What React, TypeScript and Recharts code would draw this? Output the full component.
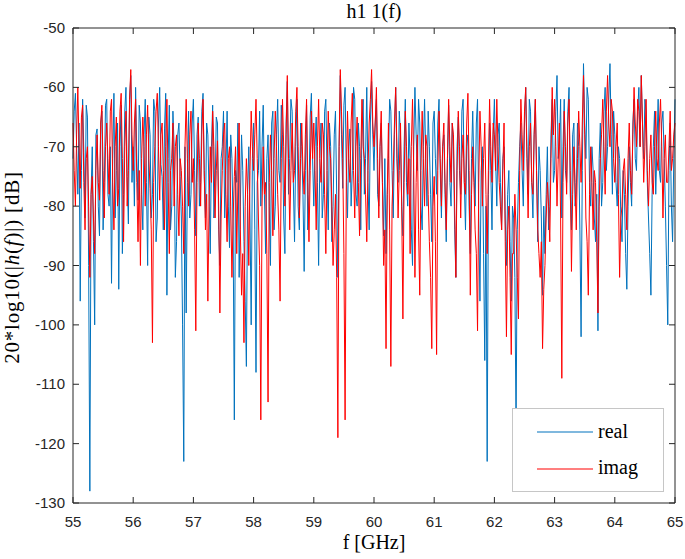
import React from "react";
import { LineChart, Line, XAxis, YAxis } from "recharts";

// sampling grid: 55..65 GHz, 0.02 GHz step
const F_START = 55;
const F_STEP = 0.02;

// 20*log10(|h(f)|) of the real part, dB (one row per GHz)
const realDb = [
  -72, -64, -61, -70, -78, -66, -96, -74, -62, -71, -82, -63, -65, -90, -128, -78, -70, -86, -100, -68, -67, -80, -85, -66, -64, -84, -76, -63, -62, -78, -80, -70, -93, -72, -61, -82, -74, -66, -94, -70, -63, -88, -78, -64, -60, -75, -83, -62, -58, -76,
  -70, -80, -60, -72, -79, -63, -66, -78, -84, -68, -62, -76, -90, -65, -68, -82, -78, -62, -64, -86, -82, -66, -60, -73, -75, -84, -67, -61, -95, -72, -63, -84, -80, -64, -70, -92, -86, -68, -66, -75, -82, -100, -123, -70, -98, -76, -64, -82, -78, -66,
  -62, -74, -85, -68, -65, -80, -76, -64, -61, -75, -82, -66, -68, -78, -88, -70, -63, -82, -78, -65, -66, -84, -90, -72, -70, -64, -82, -74, -64, -80, -87, -68, -72, -84, -116, -74, -76, -66, -92, -80, -68, -74, -86, -96, -107, -78, -70, -82, -100, -72,
  -66, -84, -108, -76, -74, -64, -80, -70, -63, -78, -88, -72, -68, -80, -90, -66, -64, -84, -80, -68, -62, -74, -76, -63, -68, -82, -88, -66, -59, -78, -72, -62, -64, -76, -86, -70, -62, -80, -84, -66, -70, -78, -91, -74, -63, -84, -78, -65, -61, -72,
  -80, -70, -65, -76, -90, -72, -66, -82, -78, -64, -62, -74, -84, -66, -70, -86, -80, -68, -64, -78, -92, -70, -58, -68, -77, -63, -60, -74, -82, -70, -67, -80, -74, -60, -62, -78, -80, -66, -70, -84, -66, -62, -78, -72, -60, -76, -84, -66, -59, -68,
  -74, -66, -62, -78, -80, -70, -66, -76, -85, -72, -88, -78, -72, -62, -64, -74, -82, -68, -60, -72, -76, -64, -68, -80, -85, -70, -62, -76, -80, -66, -72, -84, -90, -70, -60, -68, -74, -62, -66, -80, -84, -70, -62, -72, -80, -64, -70, -78, -86, -66,
  -64, -72, -78, -66, -62, -74, -82, -70, -68, -78, -86, -72, -63, -76, -80, -66, -70, -84, -92, -70, -65, -74, -78, -64, -62, -76, -84, -70, -68, -80, -88, -72, -64, -74, -80, -66, -62, -82, -96, -74, -70, -88, -106, -80, -123, -78, -66, -74, -84, -68,
  -62, -72, -80, -68, -66, -76, -84, -72, -70, -82, -90, -78, -74, -86, -96, -80, -82, -92, -118, -84, -76, -70, -66, -74, -80, -66, -60, -70, -78, -62, -64, -76, -82, -68, -62, -74, -86, -70, -74, -82, -95, -80, -88, -78, -70, -84, -80, -68, -62, -76,
  -74, -64, -58, -72, -70, -62, -82, -70, -62, -74, -76, -64, -60, -78, -84, -68, -66, -80, -78, -66, -70, -84, -102, -74, -56, -66, -72, -60, -62, -76, -80, -70, -74, -82, -86, -78, -101, -72, -66, -80, -76, -64, -60, -74, -70, -62, -56, -68, -78, -64,
  -68, -76, -80, -70, -72, -82, -86, -74, -78, -88, -94, -80, -70, -76, -80, -66, -62, -72, -74, -64, -60, -70, -58, -66, -72, -62, -64, -76, -82, -88, -95, -78, -70, -64, -78, -70, -62, -74, -76, -66, -64, -72, -80, -90, -100, -74, -66, -80, -86, -72,
  -62,
];

// 20*log10(|h(f)|) of the imaginary part, dB (one row per GHz)
const imagDb = [
  -66, -74, -80, -68, -60, -70, -77, -65, -63, -76, -84, -72, -70, -80, -92, -78, -75, -82, -88, -74, -68, -76, -79, -66, -63, -74, -82, -70, -66, -72, -78, -64, -62, -76, -84, -70, -65, -80, -77, -64, -61, -72, -86, -70, -64, -80, -74, -62, -57, -68,
  -74, -66, -62, -76, -86, -74, -90, -72, -65, -70, -80, -68, -63, -72, -77, -84, -103, -76, -70, -64, -61, -70, -79, -68, -66, -74, -84, -70, -62, -76, -88, -74, -72, -66, -80, -70, -68, -78, -85, -72, -74, -80, -88, -70, -62, -72, -80, -68, -64, -76,
  -72, -84, -101, -76, -66, -72, -80, -68, -62, -74, -84, -78, -96, -80, -70, -76, -64, -70, -82, -74, -69, -80, -98, -82, -74, -68, -66, -78, -86, -72, -70, -80, -92, -82, -75, -70, -88, -76, -66, -84, -95, -88, -103, -80, -72, -78, -90, -74, -64, -70,
  -74, -68, -62, -72, -82, -90, -116, -80, -70, -78, -76, -88, -113, -76, -68, -74, -85, -72, -64, -70, -78, -84, -96, -72, -62, -70, -80, -68, -58, -72, -84, -74, -66, -76, -74, -64, -60, -70, -82, -72, -66, -74, -78, -68, -62, -76, -86, -74, -64, -72,
  -66, -74, -84, -70, -62, -72, -76, -66, -68, -78, -88, -74, -64, -70, -72, -80, -90, -84, -78, -92, -119, -70, -57, -64, -72, -88, -116, -76, -64, -72, -76, -66, -61, -74, -82, -70, -65, -76, -85, -72, -62, -70, -72, -78, -86, -74, -66, -62, -57, -66,
  -70, -66, -60, -72, -82, -70, -64, -76, -90, -84, -104, -78, -66, -84, -107, -80, -74, -66, -60, -70, -82, -74, -66, -80, -99, -76, -64, -70, -78, -72, -88, -70, -62, -74, -92, -76, -68, -84, -95, -74, -64, -72, -80, -68, -70, -78, -86, -92, -104, -80,
  -75, -86, -105, -74, -64, -72, -80, -70, -66, -76, -84, -72, -62, -70, -76, -66, -68, -80, -92, -74, -64, -70, -82, -72, -68, -76, -78, -66, -61, -74, -95, -78, -70, -76, -84, -88, -101, -76, -64, -70, -80, -72, -66, -78, -88, -74, -62, -70, -76, -66,
  -68, -74, -62, -70, -76, -80, -84, -74, -66, -86, -102, -84, -80, -92, -105, -88, -88, -78, -84, -92, -99, -74, -62, -68, -74, -64, -60, -72, -82, -70, -66, -76, -78, -68, -62, -74, -84, -88, -92, -86, -104, -94, -90, -82, -76, -80, -86, -72, -60, -68,
  -62, -70, -80, -72, -66, -82, -109, -76, -64, -70, -78, -66, -62, -74, -91, -78, -70, -76, -84, -72, -64, -70, -76, -66, -58, -68, -82, -86, -95, -78, -70, -76, -84, -74, -76, -86, -98, -80, -72, -68, -62, -70, -78, -64, -58, -66, -70, -62, -64, -72,
  -76, -70, -66, -78, -92, -82, -80, -74, -72, -78, -84, -72, -66, -74, -78, -68, -60, -66, -70, -62, -64, -70, -58, -66, -76, -70, -62, -74, -80, -72, -68, -76, -78, -70, -64, -72, -74, -66, -62, -70, -82, -72, -68, -76, -76, -70, -64, -74, -72, -68,
  -66,
];

const xTicks = [55, 56, 57, 58, 59, 60, 61, 62, 63, 64, 65];
const yTicks = [-130, -120, -110, -100, -90, -80, -70, -60, -50];

const data = realDb.map((v, i) => ({
  f: +(F_START + i * F_STEP).toFixed(2),
  real: v,
  imag: imagDb[i],
}));

const AXIS = "#262626";
const TICK_LEN = 6;
const SANS = "'Liberation Sans', Arial, sans-serif";
const SERIF = "'Liberation Serif', 'Times New Roman', serif";

function BottomTick({ x, y, payload }: any) {
  return (
    <g>
      <line x1={x} x2={x} y1={y} y2={y - TICK_LEN} stroke={AXIS} />
      <text x={x} y={y + 24} textAnchor="middle" fontFamily={SANS} fontSize={15} fill={AXIS}>
        {payload.value}
      </text>
    </g>
  );
}

function TopTick({ x, y }: any) {
  return <line x1={x} x2={x} y1={y} y2={y + TICK_LEN} stroke={AXIS} />;
}

function LeftTick({ x, y, payload }: any) {
  return (
    <g>
      <line x1={x} x2={x + TICK_LEN} y1={y} y2={y} stroke={AXIS} />
      <text x={x - 8} y={y + 5} textAnchor="end" fontFamily={SANS} fontSize={15} fill={AXIS}>
        {payload.value}
      </text>
    </g>
  );
}

function RightTick({ x, y }: any) {
  return <line x1={x} x2={x - TICK_LEN} y1={y} y2={y} stroke={AXIS} />;
}

function LegendBox() {
  return (
    <div
      style={{
        position: "absolute", left: 512, top: 408, width: 152, height: 84,
        boxSizing: "border-box", border: "1px solid #c6c6c6", background: "#fff",
      }}
    >
      <svg width={150} height={82} style={{ display: "block" }}>
        <line x1={24} x2={80} y1={23} y2={23} stroke="#0072BD" strokeWidth={1.2} />
        <text x={85} y={29} fontFamily={SERIF} fontSize={20} fill="#000">real</text>
        <line x1={24} x2={80} y1={60} y2={60} stroke="#FF0000" strokeWidth={1.2} />
        <text x={85} y={65} fontFamily={SERIF} fontSize={20} fill="#000">imag</text>
      </svg>
    </div>
  );
}

export default function App() {
  return (
    <div style={{ position: "relative", width: 685, height: 559, background: "#fff" }}>
      <style>{"body{margin:0}"}</style>
      <LineChart width={685} height={559} data={data} margin={{ top: 27, right: 9, left: 0, bottom: 0 }}>
        <XAxis
          dataKey="f"
          type="number"
          domain={[55, 65]}
          ticks={xTicks}
          height={56}
          tickSize={0}
          tickMargin={0}
          tickLine={false}
          axisLine={{ stroke: AXIS }}
          tick={<BottomTick />}
          label={{
            content: ({ viewBox }: any) => (
              <text x={viewBox.x + viewBox.width / 2} y={viewBox.y + 46} textAnchor="middle" fontFamily={SERIF} fontSize={20} fill="#000">
                f [GHz]
              </text>
            ),
          }}
        />
        <XAxis
          xAxisId="top"
          orientation="top"
          dataKey="f"
          type="number"
          domain={[55, 65]}
          ticks={xTicks}
          height={1}
          tickSize={0}
          tickMargin={0}
          tickLine={false}
          axisLine={{ stroke: AXIS }}
          tick={<TopTick />}
          label={{
            content: ({ viewBox }: any) => (
              <text x={viewBox.x + viewBox.width / 2} y={18} textAnchor="middle" fontFamily={SERIF} fontSize={20} fill="#000">
                h1 1(f)
              </text>
            ),
          }}
        />
        <YAxis
          domain={[-130, -50]}
          ticks={yTicks}
          width={73}
          tickSize={0}
          tickMargin={0}
          tickLine={false}
          axisLine={{ stroke: AXIS }}
          tick={<LeftTick />}
          label={{
            content: ({ viewBox }: any) => {
              const cy = viewBox.y + viewBox.height / 2 + 2;
              return (
                <text x={19} y={cy} transform={`rotate(-90 19 ${cy})`} textAnchor="middle" fontFamily={SERIF} fontSize={21} letterSpacing={0.8} fill="#000">
                  20*log10(|<tspan fontStyle="italic">h</tspan>(<tspan fontStyle="italic">f</tspan>)|) [dB]
                </text>
              );
            },
          }}
        />
        <YAxis
          yAxisId="right"
          orientation="right"
          domain={[-130, -50]}
          ticks={yTicks}
          width={1}
          tickSize={0}
          tickMargin={0}
          tickLine={false}
          axisLine={{ stroke: AXIS }}
          tick={<RightTick />}
        />
        <Line dataKey="real" name="real" stroke="#0072BD" strokeWidth={1} dot={false} isAnimationActive={false} />
        <Line dataKey="imag" name="imag" stroke="#FF0000" strokeWidth={1} dot={false} isAnimationActive={false} />
        {/* invisible series so the top / right frame axes get a scale */}
        <Line xAxisId="top" yAxisId="right" dataKey="real" stroke="none" dot={false} activeDot={false} legendType="none" isAnimationActive={false} />
      </LineChart>
      <LegendBox />
    </div>
  );
}
